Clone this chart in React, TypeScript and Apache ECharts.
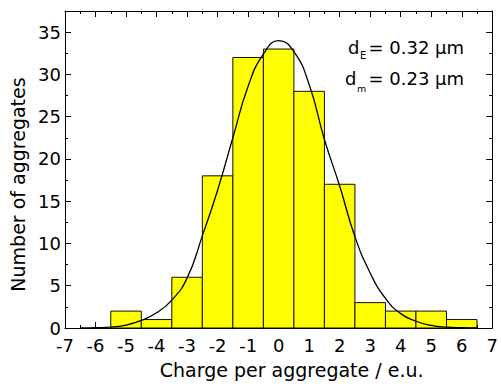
import React, { useEffect, useRef } from "react";
import * as echarts from "echarts";

// Histogram bins (bin centre, charge in e.u.) and counts
const binCenters = [-5, -4, -3, -2, -1, 0, 1, 2, 3, 4, 5, 6];
const counts = [2, 1, 6, 18, 32, 33, 28, 17, 3, 2, 2, 1];

// Fitted curve, points
const fitX = [-6.5, -6, -5.5, -5, -4.5, -4, -3.5, -3, -2.5, -2, -1.5, -1, -0.5, 0, 0.5, 1, 1.5, 2, 2.5, 3, 3.5, 4, 4.5, 5, 5.5, 6, 6.5];
const fitY = [0.0, 0.03, 0.1, 0.35, 0.9, 1.8, 3.3, 5.9, 10.9, 16.3, 22.5, 28.6, 32.4, 34.0, 32.7, 28.8, 22.3, 16.8, 10.8, 6.5, 3.5, 1.7, 0.8, 0.3, 0.1, 0.03, 0.0];

// Axes
const xMin = -7;
const xMax = 7;
const xInterval = 1;
const yMin = 0;
const yMax = 37.5;
const yInterval = 5;

const xTitle = "Charge per aggregate / e.u.";
const yTitle = "Number of aggregates";
const note1 = ["d", "E", "= 0.32 \u00b5m"];
const note2 = ["d", "m", "= 0.23 \u00b5m"];

const FONT = "DejaVu Sans";

export default function App() {
  const ref = useRef<HTMLDivElement>(null);
  useEffect(() => {
    if (!ref.current) return;
    const chart = echarts.init(ref.current, null, { renderer: "svg" });
    const barData = binCenters.map((c, i) => [c, counts[i]]);
    const fitData = fitX.map((x, i) => [x, fitY[i]]);
    const axisLine = { show: true, onZero: false, lineStyle: { color: "#000", width: 1 } };
    const axisTick = { show: true, inside: true, length: 6, lineStyle: { color: "#000", width: 1 } };
    const minorTick = { show: true, splitNumber: 2, length: 3, lineStyle: { color: "#000", width: 1 } };
    const labelStyle = { color: "#000", fontFamily: FONT, fontSize: 18 };
    const txt = (x: number, y: number, s: string, size: number) => ({
      type: "text",
      x,
      y,
      style: { text: s, fill: "#000", font: `${size}px "${FONT}"`, align: "left", verticalAlign: "middle" },
    });
    chart.setOption({
      animation: false,
      backgroundColor: "#fff",
      grid: { left: 65, right: 3, top: 11, bottom: 52, containLabel: false },
      xAxis: [
        {
          type: "value",
          min: xMin,
          max: xMax,
          interval: xInterval,
          position: "bottom",
          axisLine,
          axisTick,
          minorTick,
          splitLine: { show: false },
          axisLabel: { ...labelStyle, margin: 8 },
          name: xTitle,
          nameLocation: "middle",
          nameGap: 32,
          nameTextStyle: { color: "#000", fontFamily: FONT, fontSize: 19, padding: [0, 0, 0, 26] },
        },
        {
          type: "value",
          min: xMin,
          max: xMax,
          interval: xInterval,
          position: "top",
          axisLine,
          axisTick,
          minorTick,
          splitLine: { show: false },
          axisLabel: { show: false },
        },
      ],
      yAxis: [
        {
          type: "value",
          min: yMin,
          max: yMax,
          interval: yInterval,
          position: "left",
          axisLine,
          axisTick,
          minorTick,
          splitLine: { show: false },
          axisLabel: {
            ...labelStyle,
            margin: 4,
            showMaxLabel: false,
            padding: [0, 0, 5, 0],
            formatter: (v: number) => (v % 5 === 0 ? String(v) : ""),
          },
          name: yTitle,
          nameLocation: "middle",
          nameGap: 35,
          nameTextStyle: { color: "#000", fontFamily: FONT, fontSize: 19, padding: [0, 30, 0, 0] },
        },
        {
          type: "value",
          min: yMin,
          max: yMax,
          interval: yInterval,
          position: "right",
          axisLine,
          axisTick,
          minorTick,
          splitLine: { show: false },
          axisLabel: { show: false },
        },
      ],
      series: [
        {
          type: "custom",
          xAxisIndex: 0,
          yAxisIndex: 0,
          data: barData,
          encode: { x: 0, y: 1 },
          z: 2,
          renderItem: (_params: any, api: any) => {
            const c = api.value(0);
            const v = api.value(1);
            const tl = api.coord([c - 0.5, v]);
            const br = api.coord([c + 0.5, 0]);
            return {
              type: "rect",
              shape: { x: tl[0], y: tl[1], width: br[0] - tl[0], height: br[1] - tl[1] },
              style: { fill: "#ffff00", stroke: "#111100", lineWidth: 1 },
            };
          },
        },
        {
          type: "line",
          xAxisIndex: 0,
          yAxisIndex: 0,
          data: fitData,
          smooth: true,
          showSymbol: false,
          symbol: "none",
          z: 3,
          lineStyle: { color: "#000", width: 1.3 },
        },
      ],
      graphic: [
        txt(348, 47, note1[0], 18),
        txt(360, 55.7, note1[1], 10),
        txt(368.5, 47, note1[2], 18),
        txt(345, 78.8, note2[0], 18),
        txt(357, 88, note2[1], 9.5),
        txt(368.5, 78.8, note2[2], 18),
      ],
    });
    return () => chart.dispose();
  }, []);
  return (
    <div
      ref={ref}
      style={{ position: "fixed", left: 0, top: 0, width: 501, height: 384, background: "#fff" }}
    />
  );
}
